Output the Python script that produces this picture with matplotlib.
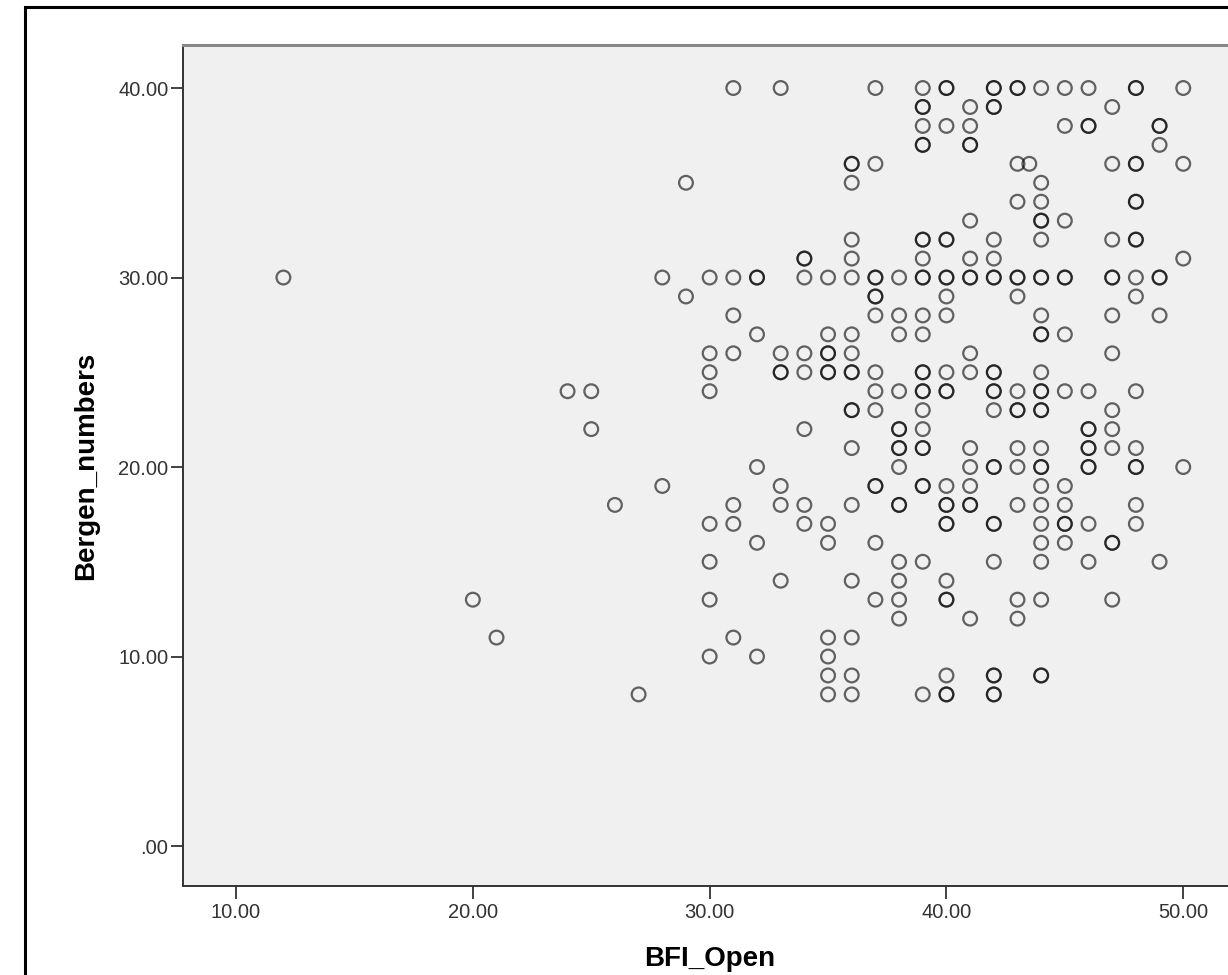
import matplotlib
matplotlib.use("Agg")
import matplotlib.pyplot as plt
from matplotlib.patches import Rectangle
from matplotlib.ticker import FuncFormatter

plt.rcParams['font.family'] = ['Liberation Sans', 'DejaVu Sans']

# Bergen_numbers levels and the BFI_Open scores seen at each level
# (repeated values = overlapping cases, drawn darker)
bergen_levels = [40, 39, 38, 37, 36, 35, 34, 33, 32, 31, 30, 29, 28, 27, 26, 25,
                 24, 23, 22, 21, 20, 19, 18, 17, 16, 15, 14, 13, 12, 11, 10, 9, 8]
bfi_by_level = [
    [31, 33, 37, 39, 40, 40, 42, 42, 43, 43, 44, 45, 46, 48, 48, 50],
    [39, 39, 41, 42, 42, 47],
    [39, 40, 41, 45, 46, 46, 49, 49],
    [39, 39, 41, 41, 49],
    [36, 36, 37, 43, 43.5, 47, 48, 48, 50],
    [29, 36, 44],
    [43, 44, 48, 48],
    [41, 44, 44, 45],
    [36, 39, 39, 40, 40, 42, 44, 47, 48, 48],
    [34, 34, 36, 39, 41, 42, 50],
    [12, 28, 30, 31, 32, 32, 34, 35, 36, 37, 37, 38, 39, 39, 40, 40, 41, 41,
     42, 42, 43, 43, 44, 44, 45, 45, 47, 47, 48, 49, 49],
    [29, 37, 37, 40, 43, 48],
    [31, 37, 38, 39, 40, 44, 47, 49],
    [32, 35, 36, 38, 39, 44, 44, 45],
    [30, 31, 33, 34, 35, 35, 36, 41, 47],
    [30, 33, 33, 34, 35, 35, 36, 36, 37, 39, 39, 40, 41, 42, 42, 44],
    [24, 25, 30, 37, 38, 39, 39, 40, 40, 42, 42, 43, 44, 44, 45, 46, 48],
    [36, 36, 37, 39, 42, 43, 43, 44, 44, 47],
    [25, 34, 38, 38, 39, 46, 46, 47],
    [36, 38, 38, 39, 39, 41, 43, 44, 46, 46, 47, 48],
    [32, 38, 41, 42, 42, 43, 44, 44, 46, 46, 48, 48, 50],
    [28, 33, 37, 37, 39, 39, 40, 41, 44, 45],
    [26, 31, 33, 34, 36, 38, 38, 40, 40, 41, 41, 43, 44, 45, 48],
    [30, 31, 34, 35, 40, 40, 42, 42, 44, 45, 45, 46, 48],
    [32, 35, 37, 44, 45, 47, 47],
    [30, 38, 39, 42, 44, 46, 49],
    [33, 36, 38, 40],
    [20, 30, 37, 38, 40, 40, 43, 44, 47],
    [38, 41, 43],
    [21, 31, 35, 36],
    [30, 32, 35],
    [35, 36, 40, 42, 42, 44, 44],
    [27, 35, 36, 39, 40, 40, 42, 42],
]

x_ticks = [10, 20, 30, 40, 50]
y_ticks = [0, 10, 20, 30, 40]

bfi_open = []
bergen_numbers = []
for level, scores in zip(bergen_levels, bfi_by_level):
    for s in scores:
        bfi_open.append(s)
        bergen_numbers.append(level)

fig = plt.figure(figsize=(12.28, 9.75), dpi=100)
W, H = 1228, 975

# outer black frame of the SPSS output
fig.patches.append(Rectangle((25 / W, -0.05), 1.1, (975 - 7) / H + 0.05,
                             transform=fig.transFigure, fill=False,
                             edgecolor='black', linewidth=2.2))

ax = fig.add_axes([183 / W, (975 - 886) / H, 1054 / W, (886 - 45) / H])
ax.set_facecolor('#f0f0f0')

ax.scatter(bfi_open, bergen_numbers, s=98, facecolors='none',
           edgecolors=(0.0, 0.0, 0.0, 0.6), linewidths=1.6)

ax.set_xlim(7.76, 52.27)
ax.set_ylim(-2.11, 42.27)
ax.set_xticks(x_ticks)
ax.set_yticks(y_ticks)

def fmt(v, pos):
    s = f"{v:.2f}"
    return s[1:] if s.startswith("0") else s

ax.xaxis.set_major_formatter(FuncFormatter(fmt))
ax.yaxis.set_major_formatter(FuncFormatter(fmt))
ax.tick_params(axis='both', direction='out', length=9, width=1.3,
               color='#333333', labelcolor='#333333', labelsize=14.5)
ax.tick_params(axis='x', pad=3.5)
ax.tick_params(axis='y', pad=1.5)

for side in ['left', 'bottom']:
    ax.spines[side].set_color('#333333')
    ax.spines[side].set_linewidth(1.4)
ax.spines['top'].set_color('#888888')
ax.spines['top'].set_linewidth(2.2)
ax.spines['right'].set_visible(False)

ax.set_xlabel('BFI_Open', fontsize=20, fontweight='bold', labelpad=17)
ax.set_ylabel('Bergen_numbers', fontsize=20, fontweight='bold', labelpad=14)

fig.savefig('out.png', dpi=100)
